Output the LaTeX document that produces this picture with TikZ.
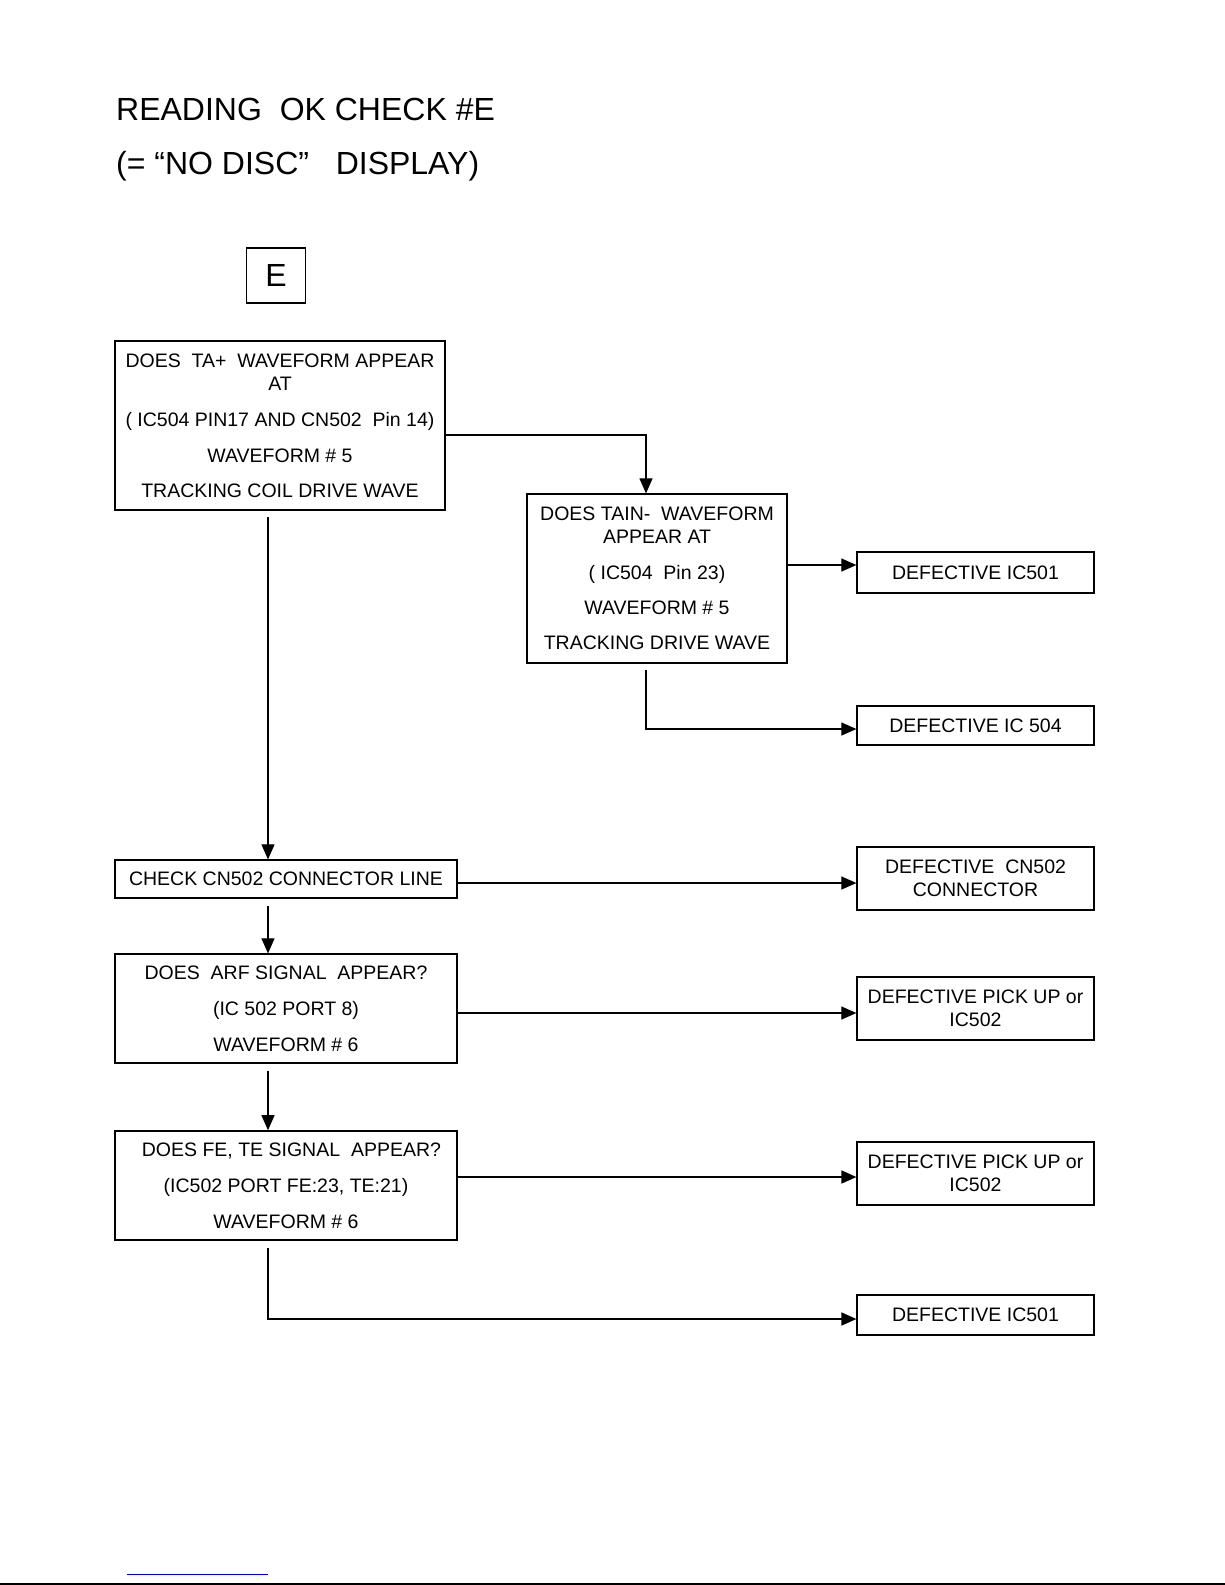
\documentclass[tikz,border=0pt]{standalone}
\usepackage{fontspec}
\setmainfont{Liberation Sans}
\usetikzlibrary{arrows.meta,calc}
\definecolor{linkblue}{RGB}{0,0,204}
\begin{document}
\begin{tikzpicture}[x=1pt,y=-1pt,
  box/.style={draw,line width=1.2pt,inner sep=0pt,align=center,font=\fontsize{19.5}{23}\selectfont},
  dbox/.style={box,minimum width=237pt},
  arr/.style={line width=1.1pt,-{Triangle[length=15pt,width=13pt]}},
  ttl/.style={anchor=west,inner sep=0pt,font=\fontsize{32}{36}\selectfont}]
\useasboundingbox (0,0) rectangle (1225,1585);
% titles
\node[ttl] (t1) at (116,109) {READING\ \ OK CHECK \#E};
\node[ttl] (t2) at (116,166) {(= “NO DISC”\ \ \ DISPLAY)};
\node[draw,line width=1.4pt,minimum width=59pt,minimum height=55pt,inner sep=0pt,font=\fontsize{32}{36}\selectfont] (e) at (276,275.5) {E};
% question boxes
\node[box,minimum width=330pt,minimum height=169pt] (b1) at (280,425.5)
  {DOES\ \ TA+\ \ WAVEFORM APPEAR\\AT\\[13pt]( IC504 PIN17 AND CN502\ \ Pin 14)\\[13pt]WAVEFORM \# 5\\[12pt]TRACKING COIL DRIVE WAVE};
\node[box,minimum width=260pt,minimum height=169pt] (b2) at (657,578.5)
  {DOES TAIN-\ \ WAVEFORM\\APPEAR AT\\[13pt]( IC504\ \ Pin 23)\\[12pt]WAVEFORM \# 5\\[12pt]TRACKING DRIVE WAVE};
\node[box,minimum width=342pt,minimum height=38pt] (chk) at (286,879) {CHECK CN502 CONNECTOR LINE};
\node[box,minimum width=342pt,minimum height=109pt] (arf) at (286,1008.5)
  {DOES\ \ ARF SIGNAL\ \ APPEAR?\\[13pt](IC 502 PORT 8)\\[13pt]WAVEFORM \# 6};
\node[box,line width=1.6pt,minimum width=342pt,minimum height=109pt] (fe) at (286,1185.5)
  {\ \ DOES FE, TE SIGNAL\ \ APPEAR?\\[13pt](IC502 PORT FE:23, TE:21)\\[13pt]WAVEFORM \# 6};
% result boxes
\node[dbox,minimum height=41pt] (d1) at (975.5,572.5) {DEFECTIVE IC501};
\node[dbox,minimum height=39pt] (d2) at (975.5,725.5) {DEFECTIVE IC 504};
\node[dbox,minimum height=63pt] (d3) at (975.5,878.5) {DEFECTIVE\ \ CN502\\CONNECTOR};
\node[dbox,minimum height=63pt] (d4) at (975.5,1008.5) {DEFECTIVE PICK UP or\\IC502};
\node[dbox,minimum height=63pt] (d5) at (975.5,1173.5) {DEFECTIVE PICK UP or\\IC502};
\node[dbox,minimum height=40pt] (d6) at (975.5,1315) {DEFECTIVE IC501};
% connector helper coordinates
\coordinate (j1) at (646,435);
\coordinate (s1) at (268,517);
\coordinate (s2) at (646,670);
\coordinate (j2) at (646,729);
\coordinate (s3) at (268,906);
\coordinate (s4) at (268,1071);
\coordinate (s5) at (268,1248);
\coordinate (j3) at (268,1319);
\coordinate (hb2) at (0,565);
\coordinate (hchk) at (0,883);
\coordinate (harf) at (0,1013);
\coordinate (hfe) at (0,1177);
% connectors
\draw[arr] (b1.east |- j1) -| (j1 |- b2.north);
\draw[arr] (s1) -- (s1 |- chk.north);
\draw[arr] (b2.east |- hb2) -- (d1.west |- hb2);
\draw[arr] (s2) -- (j2) -- (d2.west |- j2);
\draw[arr] (chk.east |- hchk) -- (d3.west |- hchk);
\draw[arr] (s3) -- (s3 |- arf.north);
\draw[arr] (arf.east |- harf) -- (d4.west |- harf);
\draw[arr] (s4) -- (s4 |- fe.north);
\draw[arr,line width=1.6pt] (fe.east |- hfe) -- (d5.west |- hfe);
\draw[arr,line width=1.6pt] (s5) -- (j3) -- (d6.west |- j3);
% footer lines
\draw[linkblue,line width=1.3pt] (127,1574.5) -- (268,1574.5);
\draw[line width=2pt] (0,1583.5) -- (1225,1583.5);
\end{tikzpicture}
\end{document}
